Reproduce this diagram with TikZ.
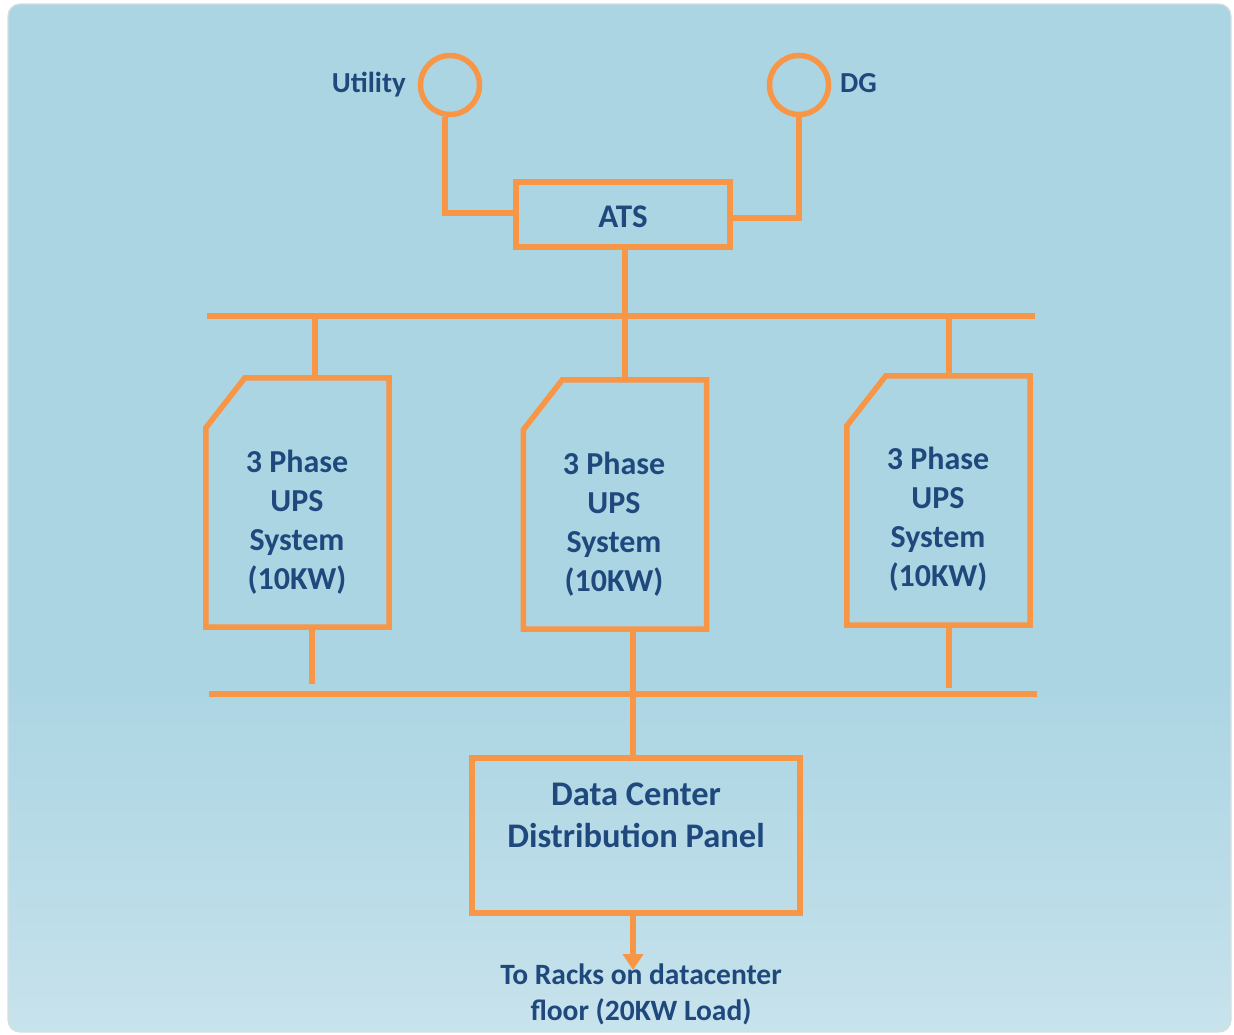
\documentclass[tikz,border=0pt]{standalone}
\usepackage{fontspec}
\setmainfont{Carlito}
\usetikzlibrary{calc,arrows.meta}
\definecolor{orng}{RGB}{247,150,70}
\definecolor{txtblue}{RGB}{31,73,125}
\definecolor{bgtop}{RGB}{172,213,227}
\definecolor{bgmid}{RGB}{190,222,233}
\definecolor{bgbot}{RGB}{226,240,245}
\definecolor{frame}{RGB}{215,222,226}
\pgfdeclareverticalshading{bgsh}{100bp}{color(0bp)=(bgbot); color(12bp)=(bgbot); color(30bp)=(bgmid); color(42bp)=(bgtop); color(100bp)=(bgtop)}
\tikzset{
  wire/.style={draw=orng, line width=5.5pt},
  lbl/.style={text=txtblue, font=\bfseries\fontsize{29}{36}\selectfont, align=center, inner sep=0pt},
  upstxt/.style={text=txtblue, font=\bfseries\fontsize{32}{39}\selectfont, align=center, inner sep=0pt},
  dcptxt/.style={text=txtblue, font=\bfseries\fontsize{34.5}{42}\selectfont, align=center, inner sep=0pt},
  src/.style={circle, draw=orng, line width=5.5pt, minimum size=59pt, inner sep=0pt},
  rectbox/.style={rectangle, draw=orng, line width=5.5pt, inner sep=0pt},
  upsbody/.style={rectangle, minimum width=183pt, minimum height=249pt, inner sep=0pt}
}
\begin{document}
\begin{tikzpicture}[x=1pt,y=-1pt]
\useasboundingbox (0,0) rectangle (1234,1035);
% background
\path[shading=bgsh, draw=frame, line width=1.2pt, rounded corners=12pt] (8,4) rectangle (1231,1032);
% sources
\node[src] (util) at (450,85) {};
\node[src] (dg) at (799,85) {};
\node[lbl, anchor=base east] (utiltxt) at (406,93) {Utility};
\node[lbl, anchor=base west] (dgtxt) at (840,93) {DG};
% ATS
\node[rectbox, minimum width=214pt, minimum height=65pt] (ats) at (623,214.5) {};
\node[upstxt, font=\bfseries\fontsize{33}{39}\selectfont, anchor=base] (atstxt) at (623,227) {ATS};
\coordinate (ulk) at (445,213);
\coordinate (dlk) at (799,218);
\draw[wire] (util.south -| ulk) -- (ulk) -- (ulk -| ats.west);
\draw[wire] (dg.south) -- (dlk) -- (dlk -| ats.east);
% top bus
\coordinate (tbL) at (207,316);
\coordinate (tbR) at (1035,316);
\draw[wire] (tbL) -- (tbR);
\coordinate (t2) at (625,316);
\draw[wire] (ats.south -| t2) -- (t2);
% UPS boxes
\node[upsbody] (ups1) at (297.5,502.5) {};
\node[upsbody] (ups2) at (615,504.5) {};
\node[upsbody] (ups3) at (938.5,500.5) {};
\foreach \u in {ups1,ups2,ups3}{
  \draw[wire, line join=miter] ($(\u.north west)+(39,0)$) -- (\u.north east) -- (\u.south east) -- (\u.south west) -- ($(\u.north west)+(0,50)$) -- cycle;
}
\node[upstxt] (ups1txt) at (297,522) {3 Phase\\UPS\\System\\(10KW)};
\node[upstxt] (ups2txt) at (614,524) {3 Phase\\UPS\\System\\(10KW)};
\node[upstxt] (ups3txt) at (938,519) {3 Phase\\UPS\\System\\(10KW)};
\coordinate (t1) at (315,316);
\coordinate (t3) at (949,316);
\draw[wire] (t1) -- (t1 |- ups1.north);
\draw[wire] (t2) -- (t2 |- ups2.north);
\draw[wire] (t3) -- (t3 |- ups3.north);
% bottom bus
\coordinate (bbL) at (209,694);
\coordinate (bbR) at (1037,694);
\draw[wire] (bbL) -- (bbR);
\coordinate (b1) at (312,684);
\coordinate (b3) at (949,688);
\draw[wire] (b1 |- ups1.south) -- (b1);
\draw[wire] (b3 |- ups3.south) -- (b3);
% distribution panel
\node[rectbox, minimum width=328pt, minimum height=155pt] (dcp) at (636,835.5) {};
\node[dcptxt] (dcptxt) at (636,815) {Data Center\\Distribution Panel};
\coordinate (b2) at (633,694);
\draw[wire] (b2 |- ups2.south) -- (b2 |- dcp.north);
% output
\coordinate (outend) at (633,970);
\draw[wire, -{Triangle[width=20pt,length=16pt]}] (b2 |- dcp.south) -- (outend);
\node[lbl, font=\bfseries\fontsize{29.5}{36}\selectfont] (outtxt) at (641,994) {To Racks on datacenter\\floor (20KW Load)};
\end{tikzpicture}
\end{document}
